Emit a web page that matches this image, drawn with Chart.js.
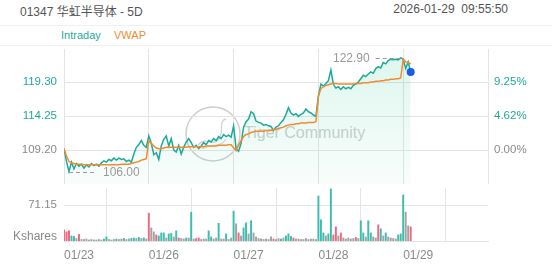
<!DOCTYPE html>
<html>
<head>
<meta charset="utf-8">
<script src="https://cdn.jsdelivr.net/npm/chart.js@4"></script>
<style>
  body { margin: 0; background: #fff; font-family: Arial, "Liberation Sans", "Noto Sans CJK SC", sans-serif; }
  #wrap { position: relative; width: 552px; height: 265px; overflow: hidden; }
  .title { position: absolute; left: 20px; top: 2px; font-size: 12px; color: #555; white-space: pre; }
  .time { position: absolute; right: 44px; top: 2px; font-size: 12px; color: #555; white-space: pre; }
  .band { position: absolute; left: 0; top: 25px; width: 552px; height: 19px; border-top: 1px solid #f0f0f0; border-bottom: 1px solid #f0f0f0; }
  .leg { position: absolute; top: 29px; font-size: 11px; line-height: 13px; }
  .kshares { position: absolute; right: 495px; top: 229px; font-size: 12px; color: #888; }
  .wm { position: absolute; left: 184px; top: 105px; }
  .wmtext { position: absolute; left: 244px; top: 124px; font-size: 16px; color: rgba(165,165,165,0.55); }
  canvas { position: absolute; left: 0; }
</style>
</head>
<body>
<div id="wrap">
  <div class="title">01347 华虹半导体 - 5D</div>
  <div class="time">2026-01-29  09:55:50</div>
  <div class="band"></div>
  <div class="leg" style="left:61px;color:#1fa99b">Intraday</div>
  <div class="leg" style="left:114px;color:#f08c2e">VWAP</div>

  <!-- watermark -->
  <svg class="wm" width="58" height="58">
    <circle cx="29" cy="29" r="27" fill="none" stroke="rgba(165,165,165,0.55)" stroke-width="1.5"/>
    <path d="M14 40 C22 30, 30 44, 36 32 C40 24, 34 16, 42 14" fill="none" stroke="rgba(165,165,165,0.5)" stroke-width="1.3"/>
    <path d="M18 44 C26 38, 36 44, 42 34" fill="none" stroke="rgba(165,165,165,0.45)" stroke-width="1.2"/>
  </svg>
  <div class="wmtext">Tiger Community</div>

  <canvas id="priceCanvas" width="552" height="143" style="top:45px"></canvas>
  <canvas id="volCanvas" width="552" height="77" style="top:188px"></canvas>
  <div class="kshares">Kshares</div>
</div>

<script>
// --- DATA ---
const days = ['01/23', '01/26', '01/27', '01/28', '01/29'];
const pointsPerDay = 34;
const prevClose = 109.20;
const priceTicks = [109.20, 114.25, 119.30];
const volTicks = [71.15];

const price0123 = [109.4, 107.5, 106.0, 107.4, 106.4, 107.2, 106.8, 107.1, 106.5, 107.0, 106.7, 107.2, 106.9, 107.1, 106.8, 107.3, 107.6,
  107.4, 107.8, 107.6, 108.0, 107.7, 108.0, 107.8, 107.9, 107.5, 107.7, 107.4, 108.6, 109.6, 110.0, 110.6, 109.9, 109.6];
const price0126 = [111.3, 110.2, 108.5, 108.8, 107.8, 109.8, 110.8, 111.3, 109.8, 110.9, 109.2, 108.9, 109.9, 108.6, 109.6, 110.4, 110.9,
  110.3, 109.6, 109.9, 109.4, 109.8, 110.3, 110.0, 110.6, 110.4, 110.9, 110.6, 111.2, 110.9, 111.5, 111.2, 111.4, 111.1];
const price0127 = [112.8, 109.4, 109.0, 110.2, 112.6, 113.4, 113.8, 114.9, 114.6, 113.5, 113.3, 113.2, 112.9, 113.0, 112.8, 112.7, 112.1,
  112.6, 112.8, 113.3, 113.7, 114.5, 115.5, 114.7, 114.4, 114.6, 114.2, 114.5, 114.7, 115.3, 114.9, 114.7, 114.4, 114.2];
const price0128 = [117.2, 119.0, 118.7, 119.1, 119.5, 121.1, 119.0, 118.4, 118.6, 118.2, 118.6, 118.3, 118.5, 118.3, 118.8, 119.0, 119.3,
  119.8, 120.3, 120.1, 120.5, 120.8, 120.6, 121.3, 121.6, 121.4, 122.2, 122.0, 122.5, 122.7, 122.6, 122.7, 122.6, 122.9];
const price0129 = [122.7, 121.3, 122.3, 120.8];

const vwap0123 = [109.4, 108.3, 107.5, 107.3, 107.2, 107.1, 107.1, 107.1, 107.0, 107.0, 107.0, 107.0, 107.0, 107.0, 107.0, 107.0, 107.0,
  107.0, 107.0, 107.0, 107.0, 107.0, 107.0, 107.1, 107.1, 107.1, 107.1, 107.2, 107.3, 107.4, 107.5, 107.7, 107.8, 107.9];
const vwap0126 = [110.6, 110.2, 109.8, 109.5, 109.4, 109.4, 109.5, 109.6, 109.6, 109.6, 109.6, 109.6, 109.6, 109.6, 109.6, 109.6, 109.7,
  109.7, 109.7, 109.7, 109.7, 109.7, 109.7, 109.8, 109.8, 109.8, 109.8, 109.8, 109.9, 109.9, 109.9, 109.9, 110.0, 110.0];
const vwap0127 = [109.5, 109.1, 109.9, 110.6, 111.2, 111.5, 111.6, 111.8, 111.9, 112.0, 112.0, 112.0, 112.0, 112.1, 112.1, 112.1, 112.2,
  112.3, 112.4, 112.5, 112.6, 112.8, 112.9, 113.0, 113.0, 113.1, 113.1, 113.2, 113.2, 113.2, 113.3, 113.3, 113.3, 113.4];
const vwap0128 = [117.2, 118.3, 118.6, 118.8, 118.9, 119.0, 119.1, 119.1, 119.0, 119.0, 119.0, 119.0, 119.0, 119.0, 119.0, 119.1, 119.1,
  119.1, 119.2, 119.2, 119.2, 119.3, 119.3, 119.4, 119.4, 119.5, 119.5, 119.6, 119.6, 119.7, 119.7, 119.8, 119.8, 119.9];
const vwap0129 = [122.7, 122.3, 122.2, 122.0];

// volume in Kshares, side: u = up, d = down, f = flat
const vol0123 = [22, 18, 20, 10, 9, 5, 13, 3, 3, 4, 2, 3, 2, 2, 3, 2, 4, 8, 3, 2, 3, 4, 3, 4, 5, 3, 4, 5, 6, 5, 7, 5, 6, 4];
const side0123 = 'ddduufdfffffffffuufffuffuffuufufuf';
const vol0126 = [55, 26, 18, 12, 10, 16, 16, 6, 14, 15, 8, 20, 6, 5, 4, 6, 6, 57, 4, 5, 6, 3, 4, 4, 20, 8, 4, 6, 35, 4, 4, 14, 3, 6];
const side0126 = 'dffduuufuufudffufufddfffuuffuffuff';
const vol0127 = [59, 34, 16, 10, 26, 36, 14, 40, 16, 8, 5, 4, 3, 4, 3, 8, 4, 3, 5, 4, 6, 10, 14, 9, 6, 4, 4, 3, 3, 5, 3, 4, 4, 3];
const side0127 = 'ufdfuufuffffffffdffufuuudfffffffff';
const vol0128 = [89, 42, 16, 10, 14, 103, 12, 28, 10, 16, 6, 4, 6, 4, 5, 7, 5, 40, 16, 8, 40, 16, 8, 6, 32, 24, 10, 16, 8, 6, 5, 4, 12, 14];
const side0128 = 'uuufuuddfdfffffdfuufuuffdufuffffuu';
const vol0129 = [91, 57, 30, 28];
const side0129 = 'uffd';

// --- COLORS ---
const TEAL = '#1fa99b';
const ORANGE = '#f08c2e';
const GRID = '#e4e4e4';
const LABEL = '#8a8a8a';
const SIDE_COLORS = { u: '#3dbdae', d: '#f0677f', f: '#a3a3a3' };

const price = [...price0123, ...price0126, ...price0127, ...price0128, ...price0129];
const vwap = [...vwap0123, ...vwap0126, ...vwap0127, ...vwap0128, ...vwap0129];
const volume = [...vol0123, ...vol0126, ...vol0127, ...vol0128, ...vol0129];
const sides = (side0123 + side0126 + side0127 + side0128 + side0129).split('');

const totalPoints = days.length * pointsPerDay;
const dayStarts = [];
for (let d = 0; d <= days.length; d++) dayStarts.push({ value: d * pointsPerDay });

const priceMin = 104.15, priceMax = 124.21;
const volMax = 104.75;
const FONT = { family: 'Arial, "Liberation Sans", sans-serif', size: 11.5 };

function tickColor(v) {
  return v > prevClose + 0.001 ? TEAL : LABEL;
}

// fixed side width, and no extra label padding above / below the plot
function fitSide(s) {
  s.width = 64;
  s.paddingTop = 0;
  s.paddingBottom = 0;
}

// --- HIGH / LOW MARKERS ---
const extremesPlugin = {
  id: 'extremes',
  afterDatasetsDraw(chart) {
    const { ctx, scales: { x, y } } = chart;
    const hi = Math.max(...price), lo = Math.min(...price);
    const hiIdx = price.indexOf(hi), loIdx = price.indexOf(lo);
    ctx.save();
    ctx.strokeStyle = '#9a9a9a';
    ctx.fillStyle = '#9a9a9a';
    ctx.lineWidth = 1;
    ctx.setLineDash([4, 3]);
    ctx.font = '12px Arial, "Liberation Sans", sans-serif';
    ctx.textBaseline = 'middle';

    let px = x.getPixelForValue(hiIdx), py = Math.round(y.getPixelForValue(hi)) + 0.5;
    ctx.beginPath(); ctx.moveTo(px, py); ctx.lineTo(px - 25, py); ctx.stroke();
    ctx.textAlign = 'right';
    ctx.fillText(hi.toFixed(2), px - 31, py);

    px = x.getPixelForValue(loIdx); py = Math.round(y.getPixelForValue(lo)) + 0.5;
    ctx.beginPath(); ctx.moveTo(px, py); ctx.lineTo(px + 28, py); ctx.stroke();
    ctx.textAlign = 'left';
    ctx.fillText(lo.toFixed(2), px + 34, py);
    ctx.restore();
  }
};

// --- PRICE CHART ---
const priceChart = new Chart(document.getElementById('priceCanvas'), {
  type: 'line',
  data: {
    datasets: [
      {
        label: 'VWAP',
        data: vwap.map((v, i) => ({ x: i, y: v })),
        borderColor: ORANGE,
        borderWidth: 1.5,
        pointRadius: 0,
        fill: false
      },
      {
        label: 'Intraday',
        data: price.map((v, i) => ({ x: i, y: v })),
        borderColor: TEAL,
        borderWidth: 1.5,
        fill: 'start',
        backgroundColor: ctx => {
          const area = ctx.chart.chartArea;
          if (!area) return 'rgba(0,0,0,0)';
          const g = ctx.chart.ctx.createLinearGradient(0, area.top, 0, area.bottom);
          g.addColorStop(0, 'rgba(40,200,140,0.16)');
          g.addColorStop(1, 'rgba(40,200,140,0.03)');
          return g;
        },
        pointRadius: ctx => ctx.dataIndex === price.length - 1 ? 4 : 0,
        pointBackgroundColor: '#1d5ce0',
        pointBorderWidth: 0
      }
    ]
  },
  options: {
    responsive: false,
    animation: false,
    layout: { padding: 0 },
    plugins: { legend: { display: false }, tooltip: { enabled: false } },
    scales: {
      x: {
        type: 'linear', min: 0, max: totalPoints,
        afterBuildTicks: s => { s.ticks = dayStarts.map(t => ({ value: t.value })); },
        afterFit: s => { s.height = 0; s.paddingLeft = 0; s.paddingRight = 0; },
        ticks: { display: false },
        grid: { color: GRID, drawTicks: false },
        border: { display: false }
      },
      y: {
        position: 'left', min: priceMin, max: priceMax,
        afterBuildTicks: s => { s.ticks = priceTicks.map(v => ({ value: v })); },
        afterFit: fitSide,
        ticks: {
          padding: 7, font: FONT,
          color: ctx => tickColor(ctx.tick.value),
          callback: v => v.toFixed(2)
        },
        grid: { color: GRID, drawTicks: false },
        border: { display: false }
      },
      y2: {
        position: 'right', min: priceMin, max: priceMax,
        afterBuildTicks: s => { s.ticks = priceTicks.map(v => ({ value: v })); },
        afterFit: fitSide,
        ticks: {
          padding: 6, font: FONT,
          color: ctx => tickColor(ctx.tick.value),
          callback: v => ((v - prevClose) / prevClose * 100).toFixed(2) + '%'
        },
        grid: { display: false, drawTicks: false },
        border: { display: false }
      }
    }
  },
  plugins: [extremesPlugin]
});

// --- VOLUME CHART ---
const volChart = new Chart(document.getElementById('volCanvas'), {
  type: 'bar',
  data: {
    datasets: [{
      label: 'Volume',
      data: volume.map((v, i) => ({ x: i, y: v })),
      backgroundColor: volume.map((v, i) => SIDE_COLORS[sides[i]]),
      barThickness: 1.3
    }]
  },
  options: {
    responsive: false,
    animation: false,
    layout: { padding: 0 },
    plugins: { legend: { display: false }, tooltip: { enabled: false } },
    scales: {
      x: {
        type: 'linear', min: 0, max: totalPoints, offset: false,
        afterBuildTicks: s => { s.ticks = dayStarts.map(t => ({ value: t.value })); },
        afterFit: s => { s.height = 24; s.paddingLeft = 0; s.paddingRight = 0; },
        ticks: {
          align: 'start', padding: 7, autoSkip: false, maxRotation: 0,
          color: LABEL, font: { family: FONT.family, size: 12 },
          callback: (v, i) => days[i] || ''
        },
        grid: { color: GRID, drawTicks: false },
        border: { display: true, color: GRID }
      },
      y: {
        position: 'left', min: 0, max: volMax,
        afterBuildTicks: s => { s.ticks = volTicks.map(v => ({ value: v })); },
        afterFit: fitSide,
        ticks: { padding: 7, font: FONT, color: LABEL, callback: v => v.toFixed(2) },
        grid: { color: GRID, drawTicks: false },
        border: { display: false }
      },
      y2: {
        position: 'right', min: 0, max: volMax,
        afterFit: fitSide,
        ticks: { display: false },
        grid: { display: false, drawTicks: false },
        border: { display: false }
      }
    }
  }
});
</script>
</body>
</html>
